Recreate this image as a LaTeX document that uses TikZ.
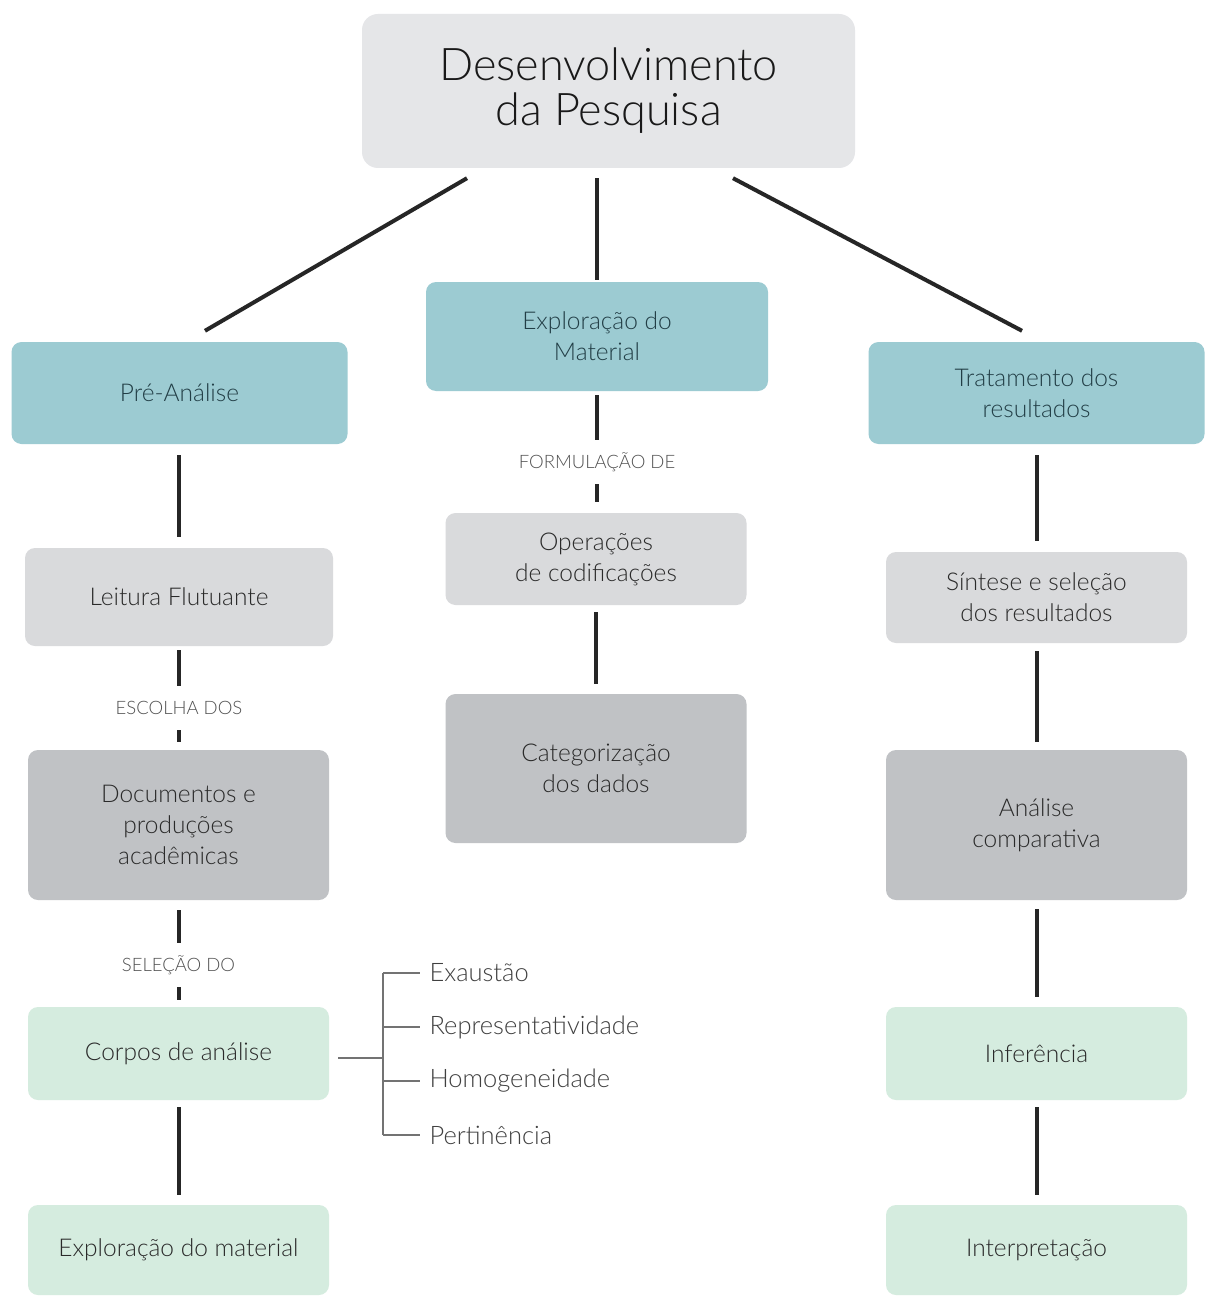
\documentclass[tikz,border=0pt]{standalone}
\usepackage{fontspec}
\setmainfont{Lato Light}
\usetikzlibrary{positioning,calc}
\definecolor{tealbox}{HTML}{9CCBD2}
\definecolor{topbox}{HTML}{E5E6E8}
\definecolor{lgraybox}{HTML}{D9DADC}
\definecolor{dgraybox}{HTML}{C0C2C5}
\definecolor{greenbox}{HTML}{D5ECDF}
\definecolor{tealtxt}{HTML}{223E46}
\definecolor{boxtxt}{HTML}{2A2A2A}
\definecolor{lbltxt}{HTML}{505050}
\tikzset{
  blk/.style={rectangle,rounded corners=10pt,align=center,inner sep=0pt,text=boxtxt,
    font=\fontsize{24.5}{31}\selectfont},
  topblk/.style={blk,fill=topbox,rounded corners=16pt,minimum width=493pt,minimum height=154pt,
    font=\fontsize{45}{45}\selectfont,text=black!90},
  tealblk/.style={blk,fill=tealbox,text=tealtxt,minimum width=336pt,minimum height=102pt},
  lgrayblk/.style={blk,fill=lgraybox,minimum width=301pt,minimum height=93pt},
  dgrayblk/.style={blk,fill=dgraybox,minimum width=301pt,minimum height=150pt},
  greenblk/.style={blk,fill=greenbox,minimum width=301pt,minimum height=92pt},
  conn/.style={line width=4pt,black!85,shorten >=11pt,shorten <=11pt},
  tick/.style={line width=1.3pt,black!55},
  lbl/.style={fill=white,text=lbltxt,font=\fontsize{18.5}{20}\selectfont,inner xsep=6pt,minimum height=44pt},
  item/.style={anchor=west,text=black!75,font=\fontsize{25.5}{28}\selectfont}
}
\begin{document}
\begin{tikzpicture}[x=1pt,y=-1pt]
  \useasboundingbox (0,0) rectangle (1207,1297);
  \fill[white] (0,0) rectangle (1207,1297);

  % main boxes
  \node[topblk] (top) at (608.5,91) {Desenvolvimento\\da Pesquisa};
  \node[tealblk] (preanl) at (179.5,393) {Pré-Análise};
  \node[tealblk, minimum width=342pt, minimum height=109pt] (explor) at (597,336.5) {Exploração do\\Material};
  \node[tealblk] (tratam) at (1036.5,393) {Tratamento dos\\resultados};

  % left column
  \node[lgrayblk, minimum width=308pt, minimum height=98pt] (leitura) at (179,597) {Leitura Flutuante};
  \node[dgrayblk] (docs) at (178.5,825) {Documentos e\\produções\\acadêmicas};
  \node[greenblk, minimum height=93pt] (corpos) at (178.5,1053.5) {Corpos de análise};
  \node[greenblk, minimum height=90pt] (exmat) at (178.5,1250) {Exploração do material};

  % middle column
  \node[lgrayblk, minimum height=92pt] (operac) at (596,559) {Operações\\de codificações};
  \node[dgrayblk, minimum height=149pt] (categ) at (596,768.5) {Categorização\\dos dados};

  % right column
  \node[lgrayblk, minimum height=91pt] (sintese) at (1036.5,597.5) {Síntese e seleção\\dos resultados};
  \node[dgrayblk] (analise) at (1036.5,825) {Análise\\comparativa};
  \node[greenblk, minimum height=93pt] (infer) at (1036.5,1053.5) {Inferência};
  \node[greenblk, minimum height=90pt] (interp) at (1036.5,1250) {Interpretação};

  % top links
  \draw[conn, shorten >=0pt, shorten <=0pt] ([xshift=-141.5pt,yshift=-10pt]top.south) -- ([xshift=25.5pt,yshift=11pt]preanl.north);
  \draw[conn, shorten >=2pt, shorten <=10pt] (explor.north |- top.south) -- (explor.north);
  \draw[conn, shorten >=0pt, shorten <=0pt] ([xshift=124.5pt,yshift=-10pt]top.south) -- ([xshift=-14.5pt,yshift=11pt]tratam.north);

  % left links
  \draw[conn] (leitura.north |- preanl.south) -- (leitura.north);
  \draw[conn, shorten <=4pt, shorten >=8pt] (leitura.south) -- (docs.north -| leitura.south)
    node[lbl, pos=0.60] {ESCOLHA DOS};
  \draw[conn, shorten <=10pt, shorten >=7pt] (docs.south) -- (corpos.north)
    node[lbl, pos=0.61] {SELEÇÃO DO};
  \draw[conn, shorten <=7pt, shorten >=10pt] (corpos.south) -- (exmat.north);

  % middle links
  \draw[conn, shorten <=4pt] (explor.south) -- (operac.north -| explor.south)
    node[lbl, pos=0.58] {FORMULAÇÃO DE};
  \draw[conn, shorten <=7pt, shorten >=10pt] (operac.south) -- (categ.north);

  % right links
  \draw[conn] (tratam.south -| sintese.north) -- (sintese.north);
  \draw[conn, shorten <=8pt, shorten >=8pt] (sintese.south) -- (analise.north);
  \draw[conn, shorten <=9pt, shorten >=10pt] (analise.south) -- (infer.north);
  \draw[conn, shorten <=7pt, shorten >=10pt] (infer.south) -- (interp.north);

  % criteria bracket
  \coordinate (brk) at (383,1058);
  \node[item] (exaus) at (426,973) {Exaustão};
  \node[item] (repres) at (426,1027) {Representatividade};
  \node[item] (homog) at (426,1081) {Homogeneidade};
  \node[item] (pertin) at (426,1135) {Pertinência};
  \draw[tick] ([xshift=9pt]corpos.east |- brk) -- (brk);
  \draw[tick] (brk |- exaus) -- (brk |- pertin);
  \foreach \n in {exaus,repres,homog,pertin}
    \draw[tick] (brk |- \n) -- ([xshift=-6pt]\n.west);
\end{tikzpicture}
\end{document}
